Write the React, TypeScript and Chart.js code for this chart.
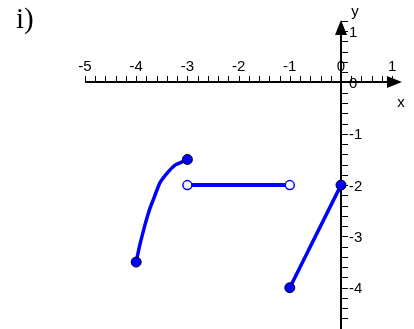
import React, { useEffect, useRef } from "react";
import { Chart, registerables } from "chart.js";

Chart.register(...registerables);

// ---- data ----
const X_TICK_LABELS = [-5, -4, -3, -2, -1, 0, 1];
const Y_TICK_LABELS = [-4, -3, -2, -1, 0, 1];
const TICK_STEP = 0.2;
const X_AXIS_START = -5;
const X_TICK_END = 1;
const X_AXIS_TIP = 1.19;
const Y_TICK_START = -4.6;
const Y_TICK_END = 1.2;
const Y_AXIS_TIP = 1.22;
const Y_AXIS_BOTTOM = -4.9;

const CURVE_X = [-4, -3.93, -3.83, -3.73, -3.63, -3.54, -3.4, -3.24, -3];
const CURVE_Y = [-3.5, -3.17, -2.78, -2.45, -2.19, -1.96, -1.77, -1.61, -1.5];
const FLAT_X = [-3, -1];
const FLAT_Y = [-2, -2];
const LINE_X = [-1, 0];
const LINE_Y = [-4, -2];

const X_MIN = -6.66;
const X_MAX = 1.426;
const Y_MIN = -4.805;
const Y_MAX = 1.608;

const BLUE = "#0000FF";
const LABEL_FONT = '15px "Liberation Sans", Arial, sans-serif';

const toPoints = (xs: number[], ys: number[]) => xs.map((x, i) => ({ x, y: ys[i] }));

const axesPlugin = {
  id: "mathAxes",
  beforeDatasetsDraw(chart: any) {
    const ctx = chart.ctx as CanvasRenderingContext2D;
    const xs = chart.scales.x;
    const ys = chart.scales.y;
    const ox = Math.round(xs.getPixelForValue(0));
    const oy = Math.round(ys.getPixelForValue(0));
    ctx.save();
    ctx.strokeStyle = "#000";
    ctx.fillStyle = "#000";

    // minor ticks
    ctx.lineWidth = 1;
    ctx.beginPath();
    const nx = Math.round((X_TICK_END - X_AXIS_START) / TICK_STEP);
    for (let i = 0; i <= nx; i++) {
      const v = X_AXIS_START + i * TICK_STEP;
      const p = Math.round(xs.getPixelForValue(v)) + 0.5;
      ctx.moveTo(p, oy);
      ctx.lineTo(p, oy - 6);
    }
    const ny = Math.round((Y_TICK_END - Y_TICK_START) / TICK_STEP);
    for (let i = 0; i <= ny; i++) {
      const v = Y_TICK_START + i * TICK_STEP;
      const p = Math.round(ys.getPixelForValue(v)) + 0.5;
      ctx.moveTo(ox, p);
      ctx.lineTo(ox + 7, p);
    }
    ctx.stroke();

    // axis lines
    const xStart = Math.round(xs.getPixelForValue(X_AXIS_START));
    const xTip = xs.getPixelForValue(X_AXIS_TIP);
    const yTip = ys.getPixelForValue(Y_AXIS_TIP);
    const yBottom = ys.getPixelForValue(Y_AXIS_BOTTOM);
    ctx.lineWidth = 2;
    ctx.beginPath();
    ctx.moveTo(xStart, oy);
    ctx.lineTo(xTip - 4, oy);
    ctx.moveTo(ox, yBottom);
    ctx.lineTo(ox, yTip + 4);
    ctx.stroke();

    // arrows
    ctx.beginPath();
    ctx.moveTo(xTip, oy);
    ctx.lineTo(xTip - 15, oy - 6);
    ctx.lineTo(xTip - 15, oy + 6);
    ctx.closePath();
    ctx.fill();
    ctx.beginPath();
    ctx.moveTo(ox, yTip);
    ctx.lineTo(ox - 6, yTip + 15);
    ctx.lineTo(ox + 6, yTip + 15);
    ctx.closePath();
    ctx.fill();

    // tick labels
    ctx.font = LABEL_FONT;
    ctx.textAlign = "center";
    ctx.textBaseline = "alphabetic";
    X_TICK_LABELS.forEach((v) => {
      ctx.fillText(String(v), xs.getPixelForValue(v), oy - 11);
    });
    ctx.textAlign = "left";
    ctx.textBaseline = "middle";
    Y_TICK_LABELS.forEach((v) => {
      ctx.fillText(String(v), ox + 8, ys.getPixelForValue(v) + 1.5);
    });

    // axis names
    ctx.textAlign = "center";
    ctx.fillText("x", xTip - 1, oy + 21);
    ctx.fillText("y", ox + 14, yTip - 8);

    // part label
    ctx.font = '29px "Liberation Serif", "Times New Roman", serif';
    ctx.textAlign = "left";
    ctx.textBaseline = "alphabetic";
    ctx.fillText("i)", 16, 28);
    ctx.restore();
  },
};

export default function App() {
  const ref = useRef<HTMLCanvasElement | null>(null);
  useEffect(() => {
    if (!ref.current) return;
    const filled = {
      pointRadius: 5,
      pointBackgroundColor: BLUE,
      pointBorderColor: "#000",
      pointBorderWidth: 1,
    };
    const chart = new Chart(ref.current, {
      type: "scatter",
      data: {
        datasets: [
          {
            data: toPoints(CURVE_X, CURVE_Y),
            showLine: true,
            borderColor: BLUE,
            borderWidth: 3.5,
            tension: 0.15,
            ...filled,
            pointRadius: CURVE_X.map((_, i) => (i === 0 || i === CURVE_X.length - 1 ? 5 : 0)),
          },
          {
            data: toPoints(FLAT_X, FLAT_Y),
            showLine: true,
            borderColor: BLUE,
            borderWidth: 4,
            pointRadius: 4.5,
            pointBackgroundColor: "#fff",
            pointBorderColor: BLUE,
            pointBorderWidth: 1.5,
          },
          {
            data: toPoints(LINE_X, LINE_Y),
            showLine: true,
            borderColor: BLUE,
            borderWidth: 3.5,
            ...filled,
          },
        ] as any,
      },
      options: {
        animation: false,
        responsive: false,
        devicePixelRatio: 1,
        layout: { padding: 0, autoPadding: false },
        plugins: { legend: { display: false }, tooltip: { enabled: false }, title: { display: false } },
        scales: {
          x: { type: "linear", min: X_MIN, max: X_MAX, display: false },
          y: { type: "linear", min: Y_MIN, max: Y_MAX, display: false },
        },
      },
      plugins: [axesPlugin],
    });
    return () => chart.destroy();
  }, []);
  return (
    <div style={{ position: "absolute", left: 0, top: 0, width: 414, height: 329, background: "#fff" }}>
      <canvas ref={ref} width={414} height={329} style={{ display: "block" }} />
    </div>
  );
}
